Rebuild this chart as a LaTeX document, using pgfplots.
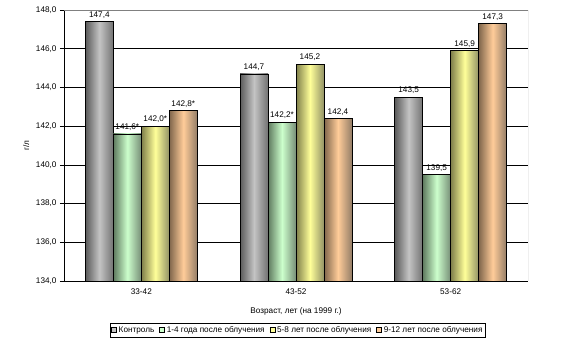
\documentclass[border=0pt]{standalone}
\usepackage{pgfplots}
\pgfplotsset{compat=1.18}
\usepackage{fontspec}
\setmainfont{Liberation Sans}
\definecolor{gmid}{HTML}{C4C4C4}
\definecolor{gedge}{HTML}{5A5A5A}
\definecolor{grmid}{HTML}{CCFFCC}
\definecolor{gredge}{HTML}{5F7A5F}
\definecolor{ymid}{HTML}{FFFF99}
\definecolor{yedge}{HTML}{7F7F4A}
\definecolor{omid}{HTML}{FFCC99}
\definecolor{oedge}{HTML}{80664C}
\pgfplotsset{
  serA/.style={draw=black, line width=0.6pt, left color=gedge, right color=gedge!85, middle color=gmid, bar shift=-42pt,
    legend image code/.code={\draw[left color=gmid, right color=gmid, middle color=gmid, draw=black, line width=0.5pt] (0pt,-2.5pt) rectangle (5pt,2.5pt);}},
  serB/.style={draw=black, line width=0.6pt, left color=gredge, right color=gredge!85, middle color=grmid, bar shift=-14pt,
    legend image code/.code={\draw[left color=grmid, right color=grmid, middle color=grmid, draw=black, line width=0.5pt] (0pt,-2.5pt) rectangle (5pt,2.5pt);}},
  serC/.style={draw=black, line width=0.6pt, left color=yedge, right color=yedge!85, middle color=ymid, bar shift=14pt,
    legend image code/.code={\draw[left color=ymid, right color=ymid, middle color=ymid, draw=black, line width=0.5pt] (0pt,-2.5pt) rectangle (5pt,2.5pt);}},
  serD/.style={draw=black, line width=0.6pt, left color=oedge, right color=oedge!85, middle color=omid, bar shift=42pt,
    legend image code/.code={\draw[left color=omid, right color=omid, middle color=omid, draw=black, line width=0.5pt] (0pt,-2.5pt) rectangle (5pt,2.5pt);}},
}
\begin{document}
\begin{tikzpicture}
\useasboundingbox (0,0) rectangle (567pt,353pt);
\begin{axis}[
  at={(64pt,72pt)}, anchor=south west,
  scale only axis, width=464pt, height=271pt,
  ybar=0pt, bar width=28pt,
  xmin=-0.5, xmax=2.5, ymin=134, ymax=148,
  xtick={0,1,2}, xticklabels={33-42,43-52,53-62},
  major x tick style={draw=none},
  extra x ticks={-0.5,0.5,1.5,2.5}, extra x tick labels={},
  extra x tick style={major tick length=4pt, tick style={draw=black}},
  ytick={134,136,...,148},
  tick align=outside, major tick length=4pt,
  xtick pos=left, ytick pos=left,
  ymajorgrids, grid style={black, line width=0.6pt},
  axis x line*=bottom, axis y line*=left,
  axis line style={black, line width=0.7pt, -},
  tick style={black, line width=0.6pt},
  /pgf/number format/.cd, fixed, fixed zerofill, precision=1, use comma, assume math mode=true,
  /pgfplots/.cd,
  tick label style={font=\fontsize{8.2}{10}\selectfont},
  xlabel={Возраст, лет (на 1999 г.)},
  ylabel={г/л},
  label style={font=\fontsize{8.2}{10}\selectfont},
  xlabel style={yshift=2pt},
  nodes near coords, point meta=explicit symbolic,
  every node near coord/.append style={font=\fontsize{8.2}{10}\selectfont, inner sep=1pt, yshift=2pt},
  legend columns=4,
  legend style={at={(0.504,-0.155)}, anchor=north, draw=black, line width=0.8pt,
    font=\fontsize{8.2}{10}\selectfont, inner sep=1pt,
    /tikz/every even column/.append style={column sep=3pt}},
]
% Контроль
\addplot[serA] coordinates {(0,147.4) [147,4]};
\addlegendentry{Контроль}
\addplot[serA, forget plot] coordinates {(1,144.7) [144,7]};
\addplot[serA, forget plot] coordinates {(2,143.5) [143,5]};
% 1-4 года
\addplot[serB] coordinates {(0,141.6) [141,6*]};
\addlegendentry{1-4 года после облучения}
\addplot[serB, forget plot] coordinates {(1,142.2) [142,2*]};
\addplot[serB, forget plot] coordinates {(2,139.5) [139,5]};
% 5-8 лет
\addplot[serC] coordinates {(0,142.0) [142,0*]};
\addlegendentry{5-8 лет после облучения}
\addplot[serC, forget plot] coordinates {(1,145.2) [145,2]};
\addplot[serC, forget plot] coordinates {(2,145.9) [145,9]};
% 9-12 лет
\addplot[serD] coordinates {(0,142.8) [142,8*]};
\addlegendentry{9-12 лет после облучения}
\addplot[serD, forget plot] coordinates {(1,142.4) [142,4]};
\addplot[serD, forget plot] coordinates {(2,147.3) [147,3]};
\draw[gray, line width=0.7pt] (rel axis cs:0,1) -- (rel axis cs:1,1) -- (rel axis cs:1,0);
\end{axis}
\end{tikzpicture}
\end{document}
